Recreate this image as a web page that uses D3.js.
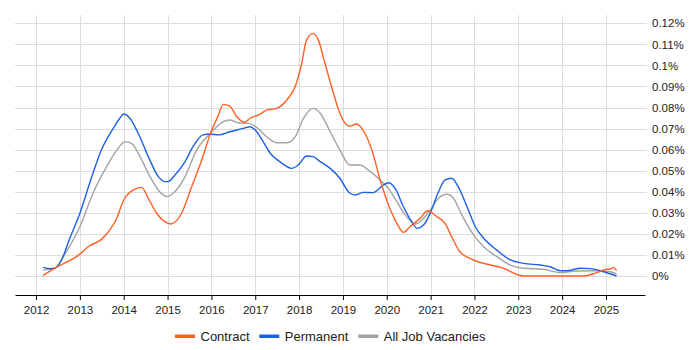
<!DOCTYPE html>
<html><head><meta charset="utf-8">
<script src="https://cdn.jsdelivr.net/npm/d3@7"></script>
<style>body{margin:0;background:#fff}svg{display:block}</style>
</head><body>
<svg id="chart" width="700" height="350"></svg>
<script>
const years = [2012,2013,2014,2015,2016,2017,2018,2019,2020,2021,2022,2023,2024,2025];
const yTicks = [0,0.01,0.02,0.03,0.04,0.05,0.06,0.07,0.08,0.09,0.1,0.11,0.12];
const seriesNames = ["Contract","Permanent","All Job Vacancies"];
const seriesColors = ["#ff6022","#1a62e2","#a3a3a3"];

const contractX = [2012.16,2012.43,2013.0,2013.19,2013.49,2013.68,2013.84,2014.0,2014.21,2014.41,2014.56,2014.75,2014.94,2015.07,2015.32,2015.55,2015.78,2015.98,2016.16,2016.27,2016.42,2016.58,2016.76,2016.88,2017.07,2017.26,2017.49,2017.75,2017.91,2018.06,2018.17,2018.32,2018.44,2018.59,2018.74,2018.93,2019.09,2019.16,2019.31,2019.5,2019.66,2019.85,2020.04,2020.23,2020.38,2020.53,2020.76,2020.93,2021.14,2021.33,2021.48,2021.67,2021.98,2022.36,2022.66,2023.0,2023.16,2023.6,2024.0,2024.49,2024.79,2025.02,2025.09,2025.17,2025.24];
const contractY = [0.0003,0.0037,0.0104,0.0139,0.0174,0.0218,0.0274,0.0361,0.0408,0.0421,0.0369,0.0298,0.0258,0.0247,0.0298,0.0424,0.0551,0.0678,0.0764,0.0815,0.0807,0.0756,0.073,0.0749,0.0764,0.0788,0.0796,0.0844,0.0899,0.101,0.112,0.1152,0.112,0.101,0.0899,0.0773,0.0717,0.0712,0.0722,0.0678,0.0598,0.0456,0.0337,0.025,0.0207,0.0234,0.0274,0.031,0.0282,0.025,0.0187,0.0115,0.0076,0.0052,0.0037,0.0005,0,0,0,0,0.0016,0.0032,0.0032,0.0041,0.0025];

const permanentX = [2012.16,2012.31,2012.43,2012.58,2012.77,2013.0,2013.26,2013.49,2013.76,2013.91,2014.0,2014.14,2014.33,2014.56,2014.79,2014.94,2015.01,2015.17,2015.4,2015.58,2015.81,2015.98,2016.16,2016.42,2016.73,2016.88,2017.0,2017.18,2017.34,2017.56,2017.83,2017.98,2018.17,2018.32,2018.48,2018.71,2018.93,2019.16,2019.28,2019.47,2019.69,2019.92,2020.04,2020.19,2020.38,2020.57,2020.69,2020.84,2020.99,2021.18,2021.33,2021.48,2021.63,2021.83,2022.02,2022.21,2022.51,2022.82,2023.12,2023.5,2023.73,2023.96,2024.11,2024.42,2024.65,2024.95,2025.24];
const permanentY = [0.0041,0.0035,0.0037,0.0076,0.0179,0.0298,0.0464,0.0598,0.0701,0.0749,0.0769,0.0749,0.0678,0.0567,0.0472,0.0448,0.0448,0.048,0.0543,0.0614,0.067,0.0674,0.067,0.0685,0.0701,0.0709,0.0693,0.0638,0.0583,0.0543,0.0511,0.0527,0.057,0.0567,0.0543,0.0511,0.0464,0.0393,0.0385,0.0397,0.0396,0.0432,0.0443,0.0416,0.0329,0.0258,0.0226,0.0242,0.0298,0.04,0.0456,0.0464,0.0424,0.0329,0.0234,0.0179,0.0123,0.0076,0.006,0.0052,0.0044,0.0025,0.0025,0.0037,0.0035,0.002,0.0];

const allX = [2012.16,2012.43,2012.69,2013.0,2013.3,2013.61,2013.87,2014.03,2014.18,2014.37,2014.6,2014.82,2014.98,2015.13,2015.4,2015.66,2015.98,2016.27,2016.42,2016.61,2016.84,2017.03,2017.26,2017.49,2017.72,2017.91,2018.1,2018.32,2018.48,2018.71,2018.93,2019.16,2019.39,2019.58,2019.85,2020.04,2020.23,2020.42,2020.65,2020.8,2020.99,2021.18,2021.37,2021.52,2021.71,2021.98,2022.21,2022.51,2022.82,2023.12,2023.57,2023.96,2024.34,2024.72,2025.1,2025.24];
const allY = [0.0028,0.0037,0.0115,0.0234,0.0393,0.0519,0.0606,0.0638,0.063,0.0567,0.0472,0.04,0.0377,0.0393,0.0472,0.0598,0.0678,0.0733,0.0741,0.0728,0.0725,0.0706,0.0661,0.0633,0.0633,0.0661,0.0749,0.0796,0.0773,0.0685,0.0598,0.0527,0.0527,0.0503,0.0456,0.0416,0.0353,0.029,0.0247,0.0266,0.0313,0.0369,0.0388,0.0369,0.029,0.0195,0.0139,0.0092,0.0052,0.0037,0.0032,0.0016,0.0024,0.0025,0.002,0.001];

const svg = d3.select("#chart");
const font = "'Liberation Sans', Arial, sans-serif";
const plotLeft = 15, plotRight = 645, plotTop = 15, plotBottom = 295;
const x = d3.scaleLinear().domain([2011.52, 2025.89]).range([plotLeft, plotRight]);
const y = d3.scaleLinear().domain([0, 0.12]).range([276, 23.3]);

// grid
svg.append("g").selectAll("line").data(yTicks).join("line")
  .attr("x1", plotLeft).attr("x2", plotRight + 2)
  .attr("y1", d => Math.round(y(d)) + 0.5).attr("y2", d => Math.round(y(d)) + 0.5)
  .attr("stroke", "#dcdcdc").attr("stroke-width", 1);
svg.append("g").selectAll("line").data(years).join("line")
  .attr("x1", d => Math.round(x(d)) + 0.5).attr("x2", d => Math.round(x(d)) + 0.5)
  .attr("y1", plotTop).attr("y2", plotBottom)
  .attr("stroke", "#dcdcdc").attr("stroke-width", 1);

// x axis
const xAxis = d3.axisBottom(x).tickValues(years).tickFormat(d3.format("d")).tickSize(5).tickSizeOuter(0);
const gx = svg.append("g").attr("transform", `translate(0,${plotBottom})`).call(xAxis);
gx.select(".domain").attr("stroke", "#000");
gx.selectAll(".tick line").attr("stroke", "#000");
gx.selectAll("text").attr("font-family", font).attr("font-size", 11.5).attr("fill", "#222").attr("dy", "0.95em");

// y axis labels (right)
const yAxis = d3.axisRight(y).tickValues(yTicks).tickFormat(d => (+d.toFixed(2)) + "%").tickSize(0);
const gy = svg.append("g").attr("transform", `translate(${plotRight + 7},0)`).call(yAxis);
gy.select(".domain").remove();
gy.selectAll("text").attr("font-family", font).attr("font-size", 11.5).attr("fill", "#222").attr("x", 0);

// lines
const line = d3.line().x(d => x(d[0])).y(d => y(d[1])).curve(d3.curveMonotoneX);
const seriesData = [
  d3.zip(contractX, contractY),
  d3.zip(permanentX, permanentY),
  d3.zip(allX, allY)
];
const drawOrder = [2, 1, 0];
drawOrder.forEach(i => {
  svg.append("path").datum(seriesData[i]).attr("d", line)
    .attr("fill", "none").attr("stroke", seriesColors[i]).attr("stroke-width", 1.4)
    .attr("stroke-linejoin", "round");
});

// legend
const legendX = [175, 259.3, 358.3];
const lg = svg.append("g");
seriesNames.forEach((n, i) => {
  lg.append("rect").attr("x", legendX[i]).attr("y", 334.5).attr("width", 20).attr("height", 3.5).attr("fill", seriesColors[i]);
  lg.append("text").attr("x", legendX[i] + 25.5).attr("y", 340.5).text(n)
    .attr("font-family", font).attr("font-size", 13).attr("fill", "#222");
});
</script>
</body></html>
